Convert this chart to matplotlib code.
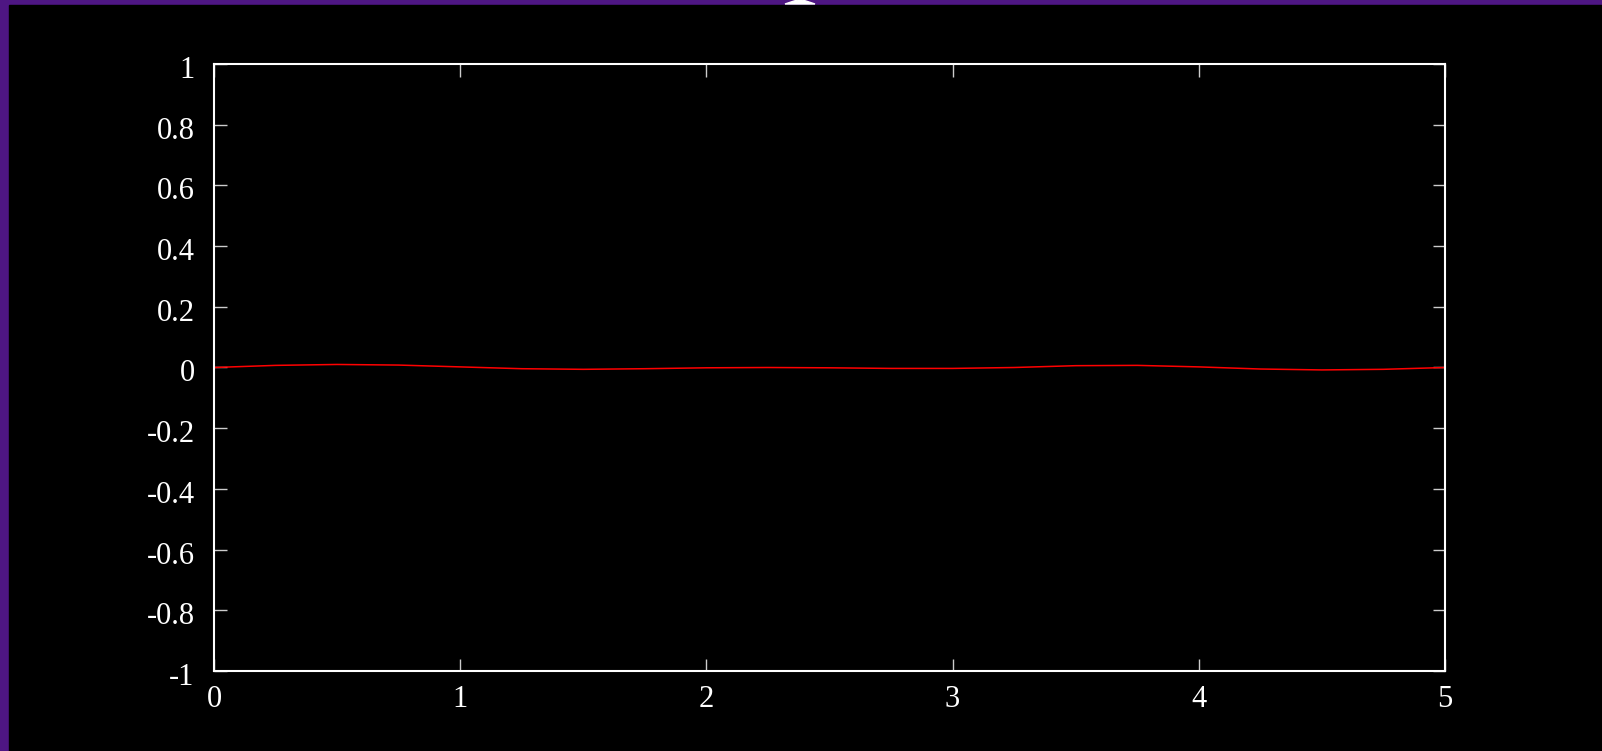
import matplotlib
matplotlib.use("Agg")
import matplotlib.pyplot as plt
from matplotlib.patches import Rectangle, Polygon
from matplotlib.transforms import ScaledTranslation

# sampled trace
t_vals = [0, 0.25, 0.5, 0.75, 1.0, 1.25, 1.5, 1.75, 2.0, 2.25, 2.5,
          2.75, 3.0, 3.25, 3.5, 3.75, 4.0, 4.25, 4.5, 4.75, 5.0]
y_vals = [0.0, 0.007, 0.010, 0.008, 0.002, -0.004, -0.006, -0.004, -0.001, 0.0, -0.001,
          -0.003, -0.003, 0.0, 0.006, 0.007, 0.002, -0.005, -0.008, -0.006, 0.0]

x_ticks = [0, 1, 2, 3, 4, 5]
y_ticks = [-1, -0.8, -0.6, -0.4, -0.2, 0, 0.2, 0.4, 0.6, 0.8, 1]

W, H = 1602, 751
plt.rcParams['font.family'] = ['Liberation Serif', 'DejaVu Serif']

fig = plt.figure(figsize=(W / 100, H / 100), dpi=100)
fig.patch.set_facecolor('#4e1683')

# black page with a thin purple margin on top and left
fig.patches.append(Rectangle((9 / W, 0), 1 - 9 / W, 1 - 5 / H,
                             transform=fig.transFigure, color='black', zorder=-2))
# bit of white glyph peeking in at the top
fig.patches.append(Polygon([[785 / W, 1 - 4 / H], [815 / W, 1 - 4 / H],
                            [806 / W, 1 - 1 / H], [802 / W, 1], [798 / W, 1],
                            [794 / W, 1 - 1 / H]],
                           closed=True, transform=fig.transFigure,
                           color='white', zorder=-1))

ax = fig.add_axes([214 / W, 1 - 671 / H, (1445 - 214) / W, (671 - 64) / H])
ax.set_zorder(2)
ax.set_facecolor('black')
ax.plot(t_vals, y_vals, color='#ff0000', lw=1.1)

ax.set_xlim(0, 5)
ax.set_ylim(-1, 1)
ax.set_xticks(x_ticks)
ax.set_xticklabels([str(v) for v in x_ticks])
ax.set_yticks(y_ticks)
ax.set_yticklabels(['%g' % v for v in y_ticks])

for s in ax.spines.values():
    s.set_color('white')
    s.set_linewidth(1.5)

ax.tick_params(direction='in', length=9, width=1, color='#cccccc',
               top=True, right=True, labelcolor='white', labelsize=22)
ax.tick_params(axis='y', pad=14)
ax.tick_params(axis='x', pad=10)

# y labels sit a touch below their ticks
shift = ScaledTranslation(0, -3 / 100, fig.dpi_scale_trans)
for lab in ax.get_yticklabels():
    lab.set_transform(lab.get_transform() + shift)

fig.savefig('out.png', dpi=100, facecolor=fig.get_facecolor())
